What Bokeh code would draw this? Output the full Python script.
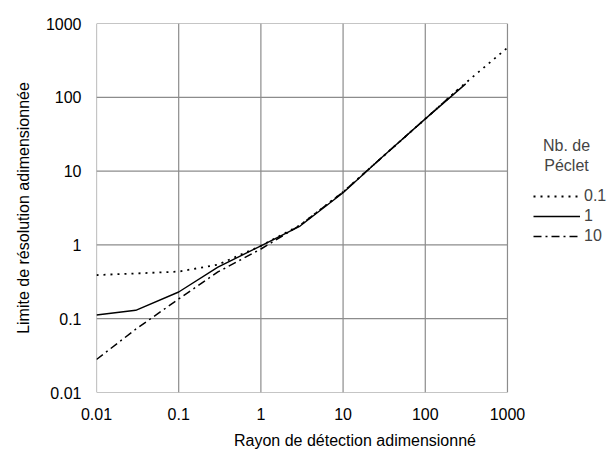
from bokeh.plotting import figure
from bokeh.models import FixedTicker, CustomJSTickFormatter, Legend, LegendItem, Label
from bokeh.embed import file_html
from bokeh.resources import INLINE

# Data
rayon = [0.01, 0.03, 0.1, 0.3, 1, 3, 10, 30, 100, 300, 1000]
pe01 = [0.39, 0.41, 0.435, 0.54, 0.97, 1.85, 5.2, 15.5, 51, 152, 470]
pe1_x = [0.01, 0.03, 0.1, 0.3, 1, 3, 10, 30, 100, 310]
pe1 = [0.112, 0.13, 0.23, 0.5, 0.97, 1.8, 5.1, 15.5, 51, 152]
pe10_x = [0.01, 0.03, 0.1, 0.3, 1, 3, 10, 30, 100, 250]
pe10 = [0.028, 0.072, 0.185, 0.43, 0.88, 1.85, 5.2, 15.5, 51, 128]
decades = [0.01, 0.1, 1, 10, 100, 1000]
legend_labels = ["0.1", "1", "10"]
legend_title = "Nb. de\nPéclet"

FONT = "Liberation Sans"
GRID = "#8c8c8c"

# the frame extends to the right past x=1000 to host the legend; grid drawn only over the decades
p = figure(width=613, height=454, x_axis_type="log", y_axis_type="log",
           x_range=(0.01, 10 ** 4.29), y_range=(0.01, 1000),
           output_backend="svg", toolbar_location=None,
           min_border_left=96, min_border_right=0, min_border_top=23, min_border_bottom=62)
p.background_fill_color = "white"
p.border_fill_color = "white"
p.outline_line_color = None
p.xgrid.visible = False
p.ygrid.visible = False

for ax in (p.xaxis[0], p.yaxis[0]):
    ax.ticker = FixedTicker(ticks=decades, minor_ticks=[])
    ax.formatter = CustomJSTickFormatter(code="return String(tick);")
    ax.axis_line_color = None
    ax.major_tick_line_color = None
    ax.minor_tick_line_color = None
    ax.major_tick_out = 0
    ax.major_tick_in = 0
    ax.minor_tick_out = 0
    ax.major_label_text_font = FONT
    ax.major_label_text_font_size = "16px"
    ax.major_label_text_color = "black"
    ax.axis_label_text_font = FONT
    ax.axis_label_text_font_size = "16px"
    ax.axis_label_text_font_style = "normal"
    ax.axis_label_text_color = "black"

p.xaxis.axis_label = "Rayon de détection adimensionné"
p.yaxis.axis_label = "Limite de résolution adimensionnée"
p.xaxis.major_label_standoff = 15
p.yaxis.major_label_standoff = 15
p.xaxis.axis_label_standoff = 9
p.yaxis.axis_label_standoff = 11

# grid lines at the decades (horizontal and vertical), including the frame edges
p.segment(x0=decades[0], x1=decades[-1], y0=decades, y1=decades, line_color=GRID, line_width=1.2)
p.segment(x0=decades, x1=decades, y0=decades[0], y1=decades[-1], line_color=GRID, line_width=1.2)

r1 = p.line(rayon, pe01, line_color="black", line_width=1.8, line_dash="2 5")
r2 = p.line(pe1_x, pe1, line_color="black", line_width=1.4)
r3 = p.line(pe10_x, pe10, line_color="black", line_width=1.5, line_dash="8 4 2 4")

legend = Legend(items=[LegendItem(label=legend_labels[0], renderers=[r1]),
                       LegendItem(label=legend_labels[1], renderers=[r2]),
                       LegendItem(label=legend_labels[2], renderers=[r3])],
                location=(437, 146), orientation="vertical",
                background_fill_alpha=0, border_line_color=None,
                glyph_width=47, glyph_height=20, label_height=20,
                spacing=0, padding=0, margin=0, label_standoff=4,
                label_text_font=FONT, label_text_font_size="16px")
p.add_layout(legend, "center")

p.add_layout(Label(x=470, y=256, x_units="screen", y_units="screen", text=legend_title,
                   text_font=FONT, text_font_size="16px", text_align="center",
                   text_baseline="top", text_line_height=1.2))

open("out.html", "w").write(file_html(p, INLINE))
